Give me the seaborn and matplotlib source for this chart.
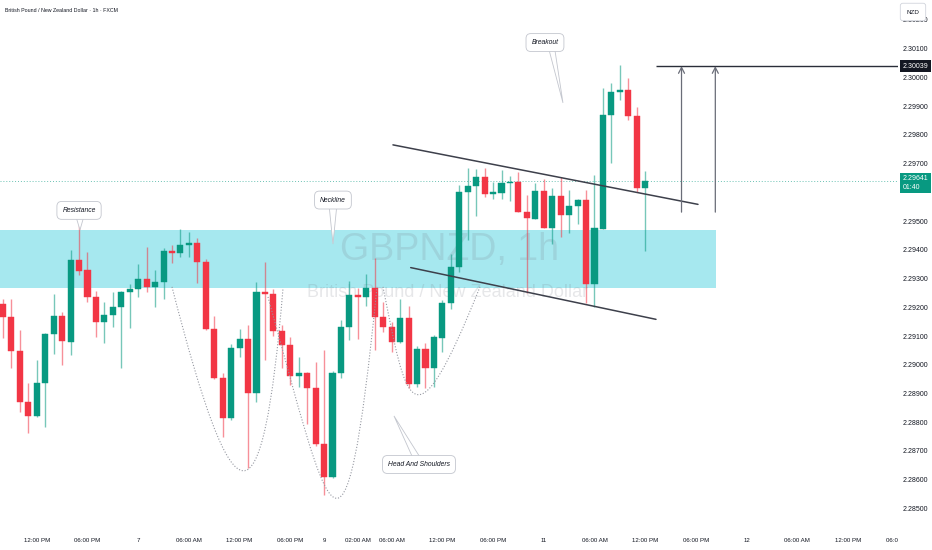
import numpy as np
import pandas as pd
import seaborn as sns
import matplotlib.pyplot as plt
import matplotlib.transforms as mtransforms
from matplotlib import font_manager
from matplotlib.patches import Rectangle, Polygon, PathPatch
from matplotlib.path import Path

# GBPNZD 1h candles (oldest first)
opens = [2.29211, 2.29166, 2.29047, 2.28870, 2.28822, 2.28936, 2.29107, 2.29170, 2.29079, 2.29364,
         2.29330, 2.29236, 2.29149, 2.29173, 2.29201, 2.29253, 2.29264, 2.29299, 2.29271, 2.29288,
         2.29396, 2.29389, 2.29417, 2.29424, 2.29358, 2.29124, 2.28953, 2.28815, 2.29058, 2.29089,
         2.28902, 2.29253, 2.29246, 2.29117, 2.29068, 2.28960, 2.28971, 2.28919, 2.28724, 2.28610,
         2.28971, 2.29131, 2.29243, 2.29236, 2.29267, 2.29166, 2.29131, 2.29079, 2.29163, 2.28933,
         2.29054, 2.28988, 2.29093, 2.29215, 2.29340, 2.29601, 2.29622, 2.29653, 2.29594, 2.29598,
         2.29632, 2.29636, 2.29531, 2.29507, 2.29605, 2.29476, 2.29587, 2.29521, 2.29552, 2.29573,
         2.29281, 2.29472, 2.29869, 2.29949, 2.29956, 2.29865, 2.29615]
highs = [2.29229, 2.29229, 2.29121, 2.28936, 2.29016, 2.29110, 2.29246, 2.29184, 2.29399, 2.29487,
         2.29392, 2.29257, 2.29218, 2.29253, 2.29257, 2.29281, 2.29351, 2.29410, 2.29330, 2.29406,
         2.29417, 2.29472, 2.29462, 2.29441, 2.29368, 2.29170, 2.28971, 2.29072, 2.29124, 2.29138,
         2.29288, 2.29358, 2.29264, 2.29138, 2.29096, 2.29026, 2.28974, 2.29009, 2.29051, 2.28978,
         2.29156, 2.29292, 2.29267, 2.29316, 2.29371, 2.29218, 2.29149, 2.29229, 2.29205, 2.29065,
         2.29075, 2.29103, 2.29225, 2.29385, 2.29625, 2.29685, 2.29681, 2.29685, 2.29636, 2.29678,
         2.29657, 2.29671, 2.29591, 2.29632, 2.29646, 2.29615, 2.29653, 2.29608, 2.29577, 2.29608,
         2.29660, 2.29963, 2.29980, 2.30043, 2.29998, 2.29897, 2.29674]
lows = [2.29093, 2.28988, 2.28835, 2.28763, 2.28818, 2.28784, 2.29037, 2.28999, 2.29033, 2.29313,
        2.29218, 2.29096, 2.29075, 2.29131, 2.28988, 2.29128, 2.29236, 2.29253, 2.29201, 2.29229,
        2.29354, 2.29375, 2.29375, 2.29285, 2.29121, 2.28950, 2.28749, 2.28808, 2.29026, 2.28641,
        2.28870, 2.29016, 2.29100, 2.28988, 2.28930, 2.28923, 2.28794, 2.28717, 2.28547, 2.28606,
        2.28953, 2.29086, 2.29089, 2.29205, 2.29051, 2.29114, 2.29044, 2.29075, 2.28919, 2.28923,
        2.28919, 2.28923, 2.29044, 2.29194, 2.29323, 2.29434, 2.29518, 2.29584, 2.29577, 2.29577,
        2.29570, 2.29531, 2.29250, 2.29507, 2.29476, 2.29420, 2.29445, 2.29458, 2.29490, 2.29215,
        2.29201, 2.29472, 2.29702, 2.29921, 2.29851, 2.29601, 2.29396]
closes = [2.29166, 2.29047, 2.28870, 2.28822, 2.28936, 2.29107, 2.29170, 2.29082, 2.29364, 2.29326,
          2.29236, 2.29149, 2.29173, 2.29201, 2.29253, 2.29264, 2.29299, 2.29271, 2.29288, 2.29396,
          2.29389, 2.29417, 2.29424, 2.29358, 2.29124, 2.28953, 2.28815, 2.29058, 2.29089, 2.28902,
          2.29253, 2.29246, 2.29117, 2.29068, 2.28960, 2.28971, 2.28919, 2.28724, 2.28610, 2.28971,
          2.29131, 2.29243, 2.29236, 2.29267, 2.29166, 2.29131, 2.29079, 2.29163, 2.28933, 2.29054,
          2.28988, 2.29096, 2.29215, 2.29340, 2.29601, 2.29622, 2.29653, 2.29594, 2.29601, 2.29632,
          2.29636, 2.29531, 2.29511, 2.29605, 2.29476, 2.29587, 2.29521, 2.29552, 2.29573, 2.29281,
          2.29476, 2.29869, 2.29949, 2.29956, 2.29865, 2.29615, 2.29641]

time_ticks = [4, 10, 16, 22, 28, 34, 38, 42, 46, 52, 58, 64, 70, 76, 82, 88, 94, 100, 106]
time_labels = ['12:00 PM', '06:00 PM', '7', '06:00 AM', '12:00 PM', '06:00 PM', '9', '02:00 AM',
               '06:00 AM', '12:00 PM', '06:00 PM', '11', '06:00 AM', '12:00 PM', '06:00 PM', '12',
               '06:00 AM', '12:00 PM', '06:00 PM']
price_ticks = [2.285, 2.286, 2.287, 2.288, 2.289, 2.290, 2.291, 2.292, 2.293, 2.294,
               2.295, 2.297, 2.298, 2.299, 2.300, 2.301, 2.302]

last_price = 2.29641
target_price = 2.30039
zone_low, zone_high = 2.29267, 2.29469

UP = '#089981'
DOWN = '#f23645'
TEXT = '#131722'

sns.set_theme(style='white')
plt.rcParams['font.family'] = ['Liberation Sans', 'DejaVu Sans']

df = pd.DataFrame({'open': opens, 'high': highs, 'low': lows, 'close': closes})
df['bar'] = np.arange(len(df))
df['color'] = np.where(df['close'] >= df['open'], UP, DOWN)

fig = plt.figure(figsize=(9.32, 5.5), dpi=100)
ax = fig.add_axes([0, 26 / 550, 898 / 932, 524 / 550])
ax.set_xlim(-0.355, 105.92)
ax.set_ylim(2.28446, 2.30269)
for s in ax.spines.values():
    s.set_visible(False)

# resistance zone
ax.add_patch(Rectangle((-1, zone_low), 85.4, zone_high - zone_low, fc='#a6e8ef', ec='none', zorder=0))

# watermark
names = {f.name for f in font_manager.fontManager.ttflist}
if 'Liberation Sans Narrow' in names:
    wm_family, wm_big, wm_small = 'Liberation Sans Narrow', 32, 15
else:
    wm_family, wm_big, wm_small = 'Liberation Sans', 27, 13
ax.text(0.501, 0.523, 'GBPNZD, 1h', transform=ax.transAxes, ha='center', va='center',
        fontsize=wm_big, family=wm_family, color='#787b86', alpha=0.18, zorder=0.5)
ax.text(0.498, 0.441, 'British Pound / New Zealand Dollar', transform=ax.transAxes, ha='center',
        va='center', fontsize=wm_small, family=wm_family, color='#787b86', alpha=0.18, zorder=0.5)

# candles
ax.vlines(df['bar'], df['low'], df['high'], colors=df['color'], lw=1.0, alpha=0.55, zorder=2)
body = (df['close'] - df['open']).abs().clip(lower=0.00003)
ax.bar(df['bar'], body, bottom=df[['open', 'close']].min(axis=1), width=0.72,
       color=df['color'], edgecolor=df['color'], lw=0.3, zorder=3)

# last price line
ax.axhline(last_price, color=UP, lw=0.7, ls=(0, (1, 2)), alpha=0.6, zorder=1)

# pattern drawings: channel, target line and arrows
ax.plot([46.15, 82.25], [2.29765, 2.29558], color='#3d404b', lw=1.1, zorder=4)
ax.plot([48.25, 77.28], [2.29338, 2.29158], color='#3d404b', lw=1.1, zorder=4)
ax.hlines(target_price, 77.3, 105.92, color='#2a2e39', lw=1.0, zorder=4)
for xb in [80.3, 84.3]:
    ax.annotate('', xy=(xb, target_price), xytext=(xb, 2.29531),
                arrowprops=dict(arrowstyle='->,head_length=0.35,head_width=0.18', lw=0.9,
                                color='#6a6d78', shrinkA=0, shrinkB=0), zorder=4)

# head and shoulders curves (cubic bezier drawings)
curves = [
    [(20.0, 2.29271), (27.33, 2.28430), (30.70, 2.28407), (33.14, 2.29267)],
    [(31.36, 2.29236), (38.56, 2.28474), (40.38, 2.28130), (44.26, 2.29271)],
    [(44.97, 2.29271), (47.74, 2.28864), (48.47, 2.28685), (56.45, 2.29271)],
]
for pts in curves:
    path = Path(pts, [Path.MOVETO, Path.CURVE4, Path.CURVE4, Path.CURVE4])
    ax.add_patch(PathPatch(path, fill=False, ec='#9598a1', lw=0.8, ls=(0, (1, 1.6)), zorder=4))


def callout(label, center, tip, base):
    ax.add_patch(Polygon([base[0], tip, base[1]], closed=True, fc='white', ec='#c3c6ce',
                         lw=0.6, zorder=6))
    ax.text(center[0], center[1], label, ha='center', va='center', fontsize=4.9, style='italic',
            color=TEXT, zorder=7,
            bbox=dict(boxstyle='round,pad=0.8,rounding_size=0.7', fc='white', ec='#c3c6ce', lw=0.6))


callout('Resistance', (9.0, 2.29537), (9.11, 2.29469), [(8.65, 2.29514), (9.55, 2.29514)])
callout('Neckline', (39.05, 2.29573), (39.05, 2.29420), [(38.6, 2.29552), (39.5, 2.29552)])
callout('Breakout', (64.14, 2.30121), (66.27, 2.29911), [(64.6, 2.30098), (65.3, 2.30098)])
callout('Head And Shoulders', (49.23, 2.28653), (46.27, 2.28822), [(48.5, 2.28676), (49.4, 2.28676)])

# price scale on the right
ax.yaxis.tick_right()
ax.set_yticks(price_ticks)
ax.set_yticklabels([f'{p:.5f}' for p in price_ticks])
ax.tick_params(axis='y', length=0, pad=3, labelsize=5, labelcolor=TEXT)
ax.set_xticks([])

blend = mtransforms.blended_transform_factory(ax.transAxes, ax.transData)
ax.text(1.005, target_price, f'{target_price:.5f}', transform=blend, ha='left', va='center',
        fontsize=5, color='white', clip_on=False, zorder=10,
        bbox=dict(boxstyle='square,pad=0.35', fc=TEXT, ec='none'))
ax.text(1.005, last_price - 0.00008, f'{last_price:.5f}\n01:40', transform=blend, ha='left',
        va='center', fontsize=5, color='white', clip_on=False, zorder=10, linespacing=1.35,
        bbox=dict(boxstyle='square,pad=0.35', fc=UP, ec='none'))

# time scale
tblend = mtransforms.blended_transform_factory(ax.transData, ax.transAxes)
clip = mtransforms.TransformedBbox(mtransforms.Bbox([[0, -1], [1, 1]]), ax.transAxes)
for xb, lab in zip(time_ticks, time_labels):
    t = ax.text(xb, -0.0324, lab, transform=tblend, ha='center', va='center', fontsize=4.4,
                color=TEXT, clip_on=True)
    t.set_clip_box(clip)

fig.text(5 / 932, 1 - 10 / 550, 'British Pound / New Zealand Dollar · 1h · FXCM', fontsize=3.8,
         color=TEXT, va='center', ha='left')
fig.text(913 / 932, 1 - 12 / 550, 'NZD', fontsize=4.5, color=TEXT, ha='center', va='center',
         zorder=12, bbox=dict(boxstyle='round,pad=1.0,rounding_size=0.4', fc='white',
                              ec='#d1d4dc', lw=0.6))

fig.savefig('out.png', dpi=100, facecolor='white')
